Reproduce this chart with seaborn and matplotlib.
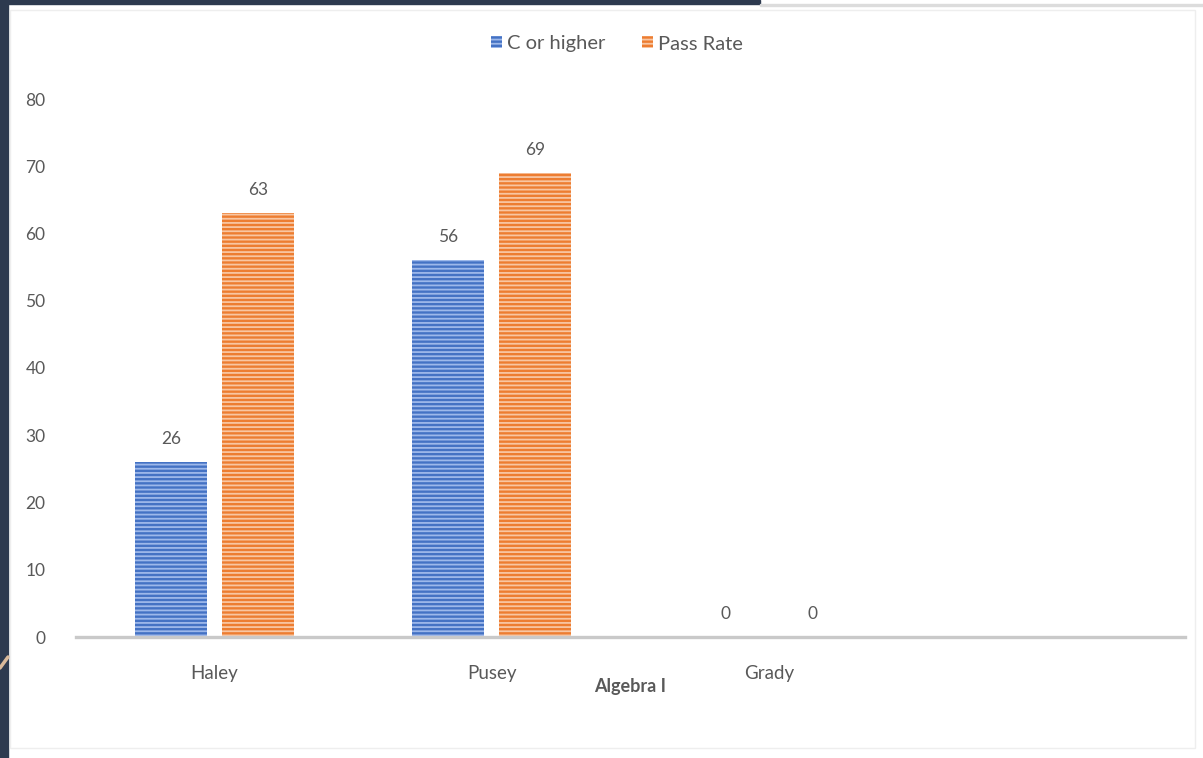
import matplotlib
matplotlib.use("Agg")
import matplotlib.pyplot as plt
from matplotlib.patches import Rectangle, Patch
from matplotlib.lines import Line2D
import seaborn as sns
import pandas as pd

schools = ["Haley", "Pusey", "Grady"]
c_or_higher = [26, 56, 0]
pass_rate = [63, 69, 0]
series_names = ["C or higher", "Pass Rate"]
y_ticks = [0, 10, 20, 30, 40, 50, 60, 70, 80]
x_title = "Algebra I"

df = pd.DataFrame({
    "school": schools * 2,
    "value": c_or_higher + pass_rate,
    "series": [series_names[0]] * len(schools) + [series_names[1]] * len(schools),
})

sns.set_theme(style="white")
plt.rcParams["font.family"] = ["Lato", "DejaVu Sans"]
plt.rcParams["hatch.linewidth"] = 1.3

face = {"C or higher": "#4472C4", "Pass Rate": "#ED7D31"}
stripe = {"C or higher": "#9db8ea", "Pass Rate": "#f8c6a2"}
text_col = "#595959"

fig = plt.figure(figsize=(12.03, 7.58), dpi=100)
fig.patch.set_facecolor("white")

# slide frame around the chart
W, H = 1203, 758
fig.patches.append(Rectangle((0, 0), 8 / W, 1, transform=fig.transFigure,
                             color="#2d3a4f", zorder=0))
fig.patches.append(Rectangle((0, 1 - 4 / H), 760 / W, 4 / H, transform=fig.transFigure,
                             color="#2d3a4f", zorder=0))
fig.patches.append(Rectangle((760 / W, 1 - 6 / H), 1 - 760 / W, 2 / H, transform=fig.transFigure,
                             color="#dcdcdc", zorder=0))
fig.patches.append(Rectangle((10 / W, 10 / H), 1185 / W, 738 / H, transform=fig.transFigure,
                             fill=False, edgecolor="#eeeeee", lw=1, zorder=0))
fig.lines.append(Line2D([0, 8 / W], [1 - 668 / H, 1 - 657 / H], transform=fig.transFigure,
                        color="#d9b99a", lw=2.5, zorder=1))

ax = fig.add_axes([76 / W, 1 - 637 / H, (1185 - 76) / W, (637 - 99) / H])
ax.set_facecolor("none")

sns.barplot(data=df, x="school", y="value", hue="series", order=schools,
            hue_order=series_names, palette=face, width=0.628, gap=0.172,
            legend=False, ax=ax, saturation=1)

for cont, name in zip(ax.containers, series_names):
    for p in cont:
        p.set_facecolor(face[name])
        p.set_edgecolor(stripe[name])
        p.set_hatch("----")
        p.set_linewidth(0)
    ax.bar_label(cont, padding=11, fontsize=12.5, color=text_col)

ax.set_ylim(0, 80)
ax.set_xlim(-0.5, 3.5)
ax.set_yticks(y_ticks)
ax.set_yticklabels([str(v) for v in y_ticks], fontsize=12.5, color=text_col)
ax.tick_params(axis="y", length=0, pad=22)
ax.tick_params(axis="x", length=0, pad=20, labelsize=13.5, labelcolor=text_col)
ax.set_xlabel(x_title, fontsize=13, fontweight="bold", color=text_col, labelpad=-3)
ax.set_ylabel("")
for s in ["left", "right", "top"]:
    ax.spines[s].set_visible(False)
ax.spines["bottom"].set_color("#c9c9c9")
ax.spines["bottom"].set_linewidth(2.4)

handles = [Patch(facecolor=face[n], edgecolor=stripe[n], hatch="----", lw=0) for n in series_names]
fig.legend(handles, series_names, loc="center", bbox_to_anchor=(617 / W, 1 - 44 / H),
           ncol=2, frameon=False, fontsize=14.5, labelcolor=text_col,
           handlelength=0.55, handleheight=0.55, handletextpad=0.25, columnspacing=1.8)

fig.savefig("out.png", dpi=100)
